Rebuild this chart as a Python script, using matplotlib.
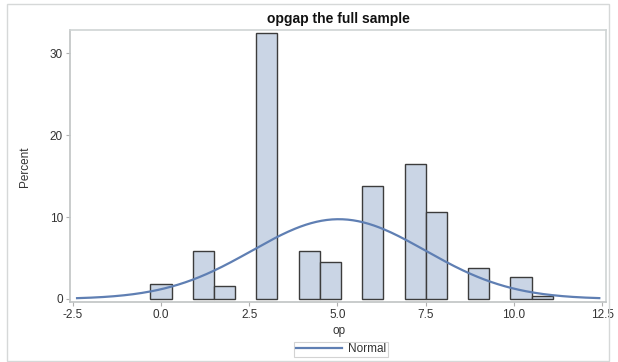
import numpy as np
import matplotlib.pyplot as plt
from matplotlib.patches import Rectangle
from matplotlib.lines import Line2D

# --- dados do histograma (percentual por classe) ---
centros = [0.0, 1.2, 1.8, 3.0, 4.2, 4.8, 6.0, 7.2, 7.8, 9.0, 10.2, 10.8]
percentual = [1.87, 5.86, 1.59, 32.44, 5.9, 4.52, 13.8, 16.45, 10.6, 3.75, 2.65, 0.4]
largura_classe = 0.6

x_ticks = [-2.5, 0.0, 2.5, 5.0, 7.5, 10.0, 12.5]
y_ticks = [0, 10, 20, 30]

plt.rcParams['font.family'] = ['Liberation Sans', 'DejaVu Sans']

W, H = 618, 362
fig = plt.figure(figsize=(W / 100, H / 100), dpi=100)
ax = fig.add_axes([70 / W, 1 - 301.7 / H, 536 / W, 271.7 / H])

cor_barra = '#cad5e5'
cor_borda = '#3c3c3c'
cor_curva = '#5f7fb3'

ax.bar(centros, percentual, width=largura_classe, color=cor_barra,
       edgecolor=cor_borda, linewidth=1.0, zorder=2)

# curva normal ajustada aos dados (media e desvio do histograma)
c = np.array(centros)
p = np.array(percentual) / np.sum(percentual)
media = np.sum(c * p)
desvio = np.sqrt(np.sum(p * (c - media) ** 2))
xs = np.linspace(-2.38, 12.42, 300)
ys = 100 * largura_classe * np.exp(-0.5 * ((xs - media) / desvio) ** 2) / (desvio * np.sqrt(2 * np.pi))
ax.plot(xs, ys, color=cor_curva, linewidth=1.6, zorder=3)

ax.set_xlim(-2.58, 12.61)
ax.set_ylim(-0.33, 32.84)
ax.set_xticks(x_ticks)
ax.set_xticklabels([f'{v:.1f}' for v in x_ticks])
ax.set_yticks(y_ticks)
ax.tick_params(axis='both', colors='#b0b0b0', labelcolor='#333333',
               labelsize=8.5, length=3, width=0.8, pad=2)

for lado in ['top', 'right']:
    ax.spines[lado].set_color('#cfd4d4')
    ax.spines[lado].set_linewidth(1.2)
for lado in ['left', 'bottom']:
    ax.spines[lado].set_color('#c0c4c4')
    ax.spines[lado].set_linewidth(1.2)

fig.text(338 / W, 1 - 19.5 / H, 'opgap the full sample', ha='center', va='center',
         fontsize=10, fontweight='bold', color='#111111')
fig.text(339 / W, 1 - 331 / H, 'op', ha='center', va='center', fontsize=8.5, color='#333333')
fig.text(25 / W, 1 - 167 / H, 'Percent', ha='center', va='center', rotation=90,
         fontsize=8.5, color='#333333')

linha_leg = Line2D([], [], color=cor_curva, linewidth=1.6)
leg = fig.legend(handles=[linha_leg], labels=['Normal'], loc='center',
                 bbox_to_anchor=(341 / W, 1 - 349.5 / H), fontsize=8.5,
                 frameon=True, fancybox=False, handlelength=3.9, handletextpad=0.5,
                 borderpad=0.15, borderaxespad=0)
leg.get_frame().set_edgecolor('#c8c8c8')
leg.get_frame().set_linewidth(0.8)
for t in leg.get_texts():
    t.set_color('#333333')

# moldura externa
fig.patches.append(Rectangle((7 / W, 1 - 361 / H), 602 / W, 357 / H,
                             transform=fig.transFigure, fill=False,
                             edgecolor='#d6d8d8', linewidth=1.0))

plt.savefig('out.png', dpi=100)
plt.close()
